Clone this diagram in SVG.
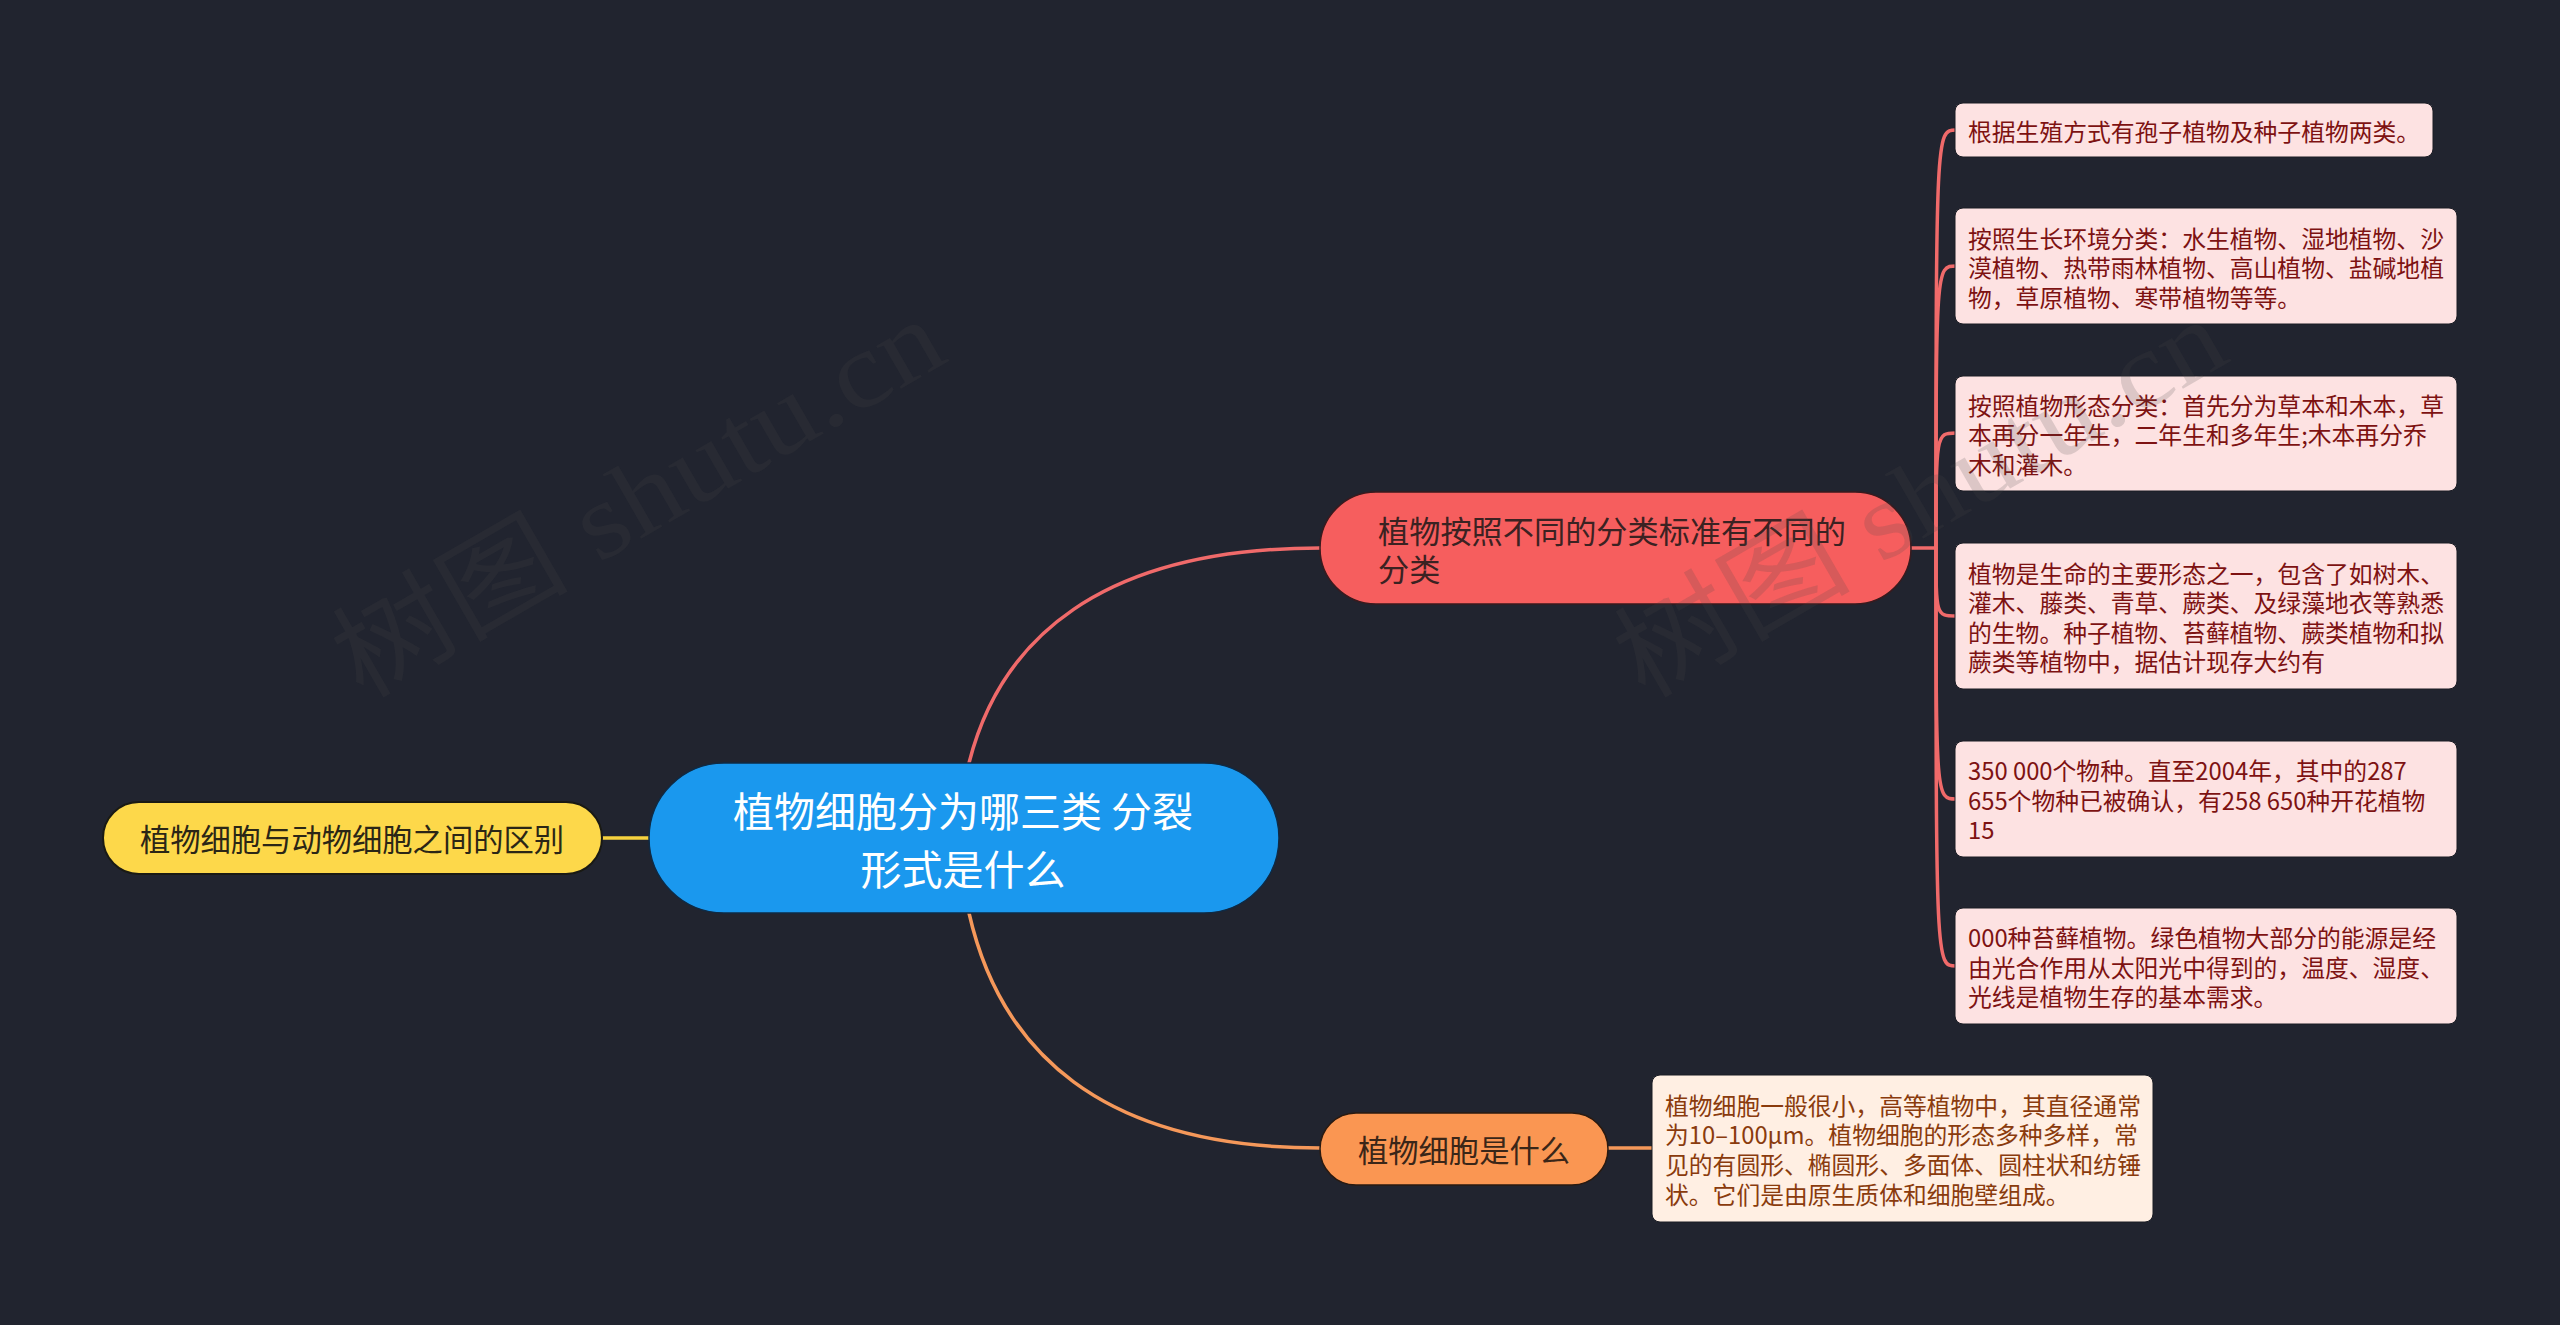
<svg xmlns="http://www.w3.org/2000/svg" width="2560" height="1325" viewBox="0 0 2560 1325">
<style>
text{font-family:"Noto Sans CJK SC","Noto Sans",sans-serif;}
.leaf{fill:#fde2e2;stroke:#1a1c24;stroke-width:1}
.leaft{font-size:23.8px;fill:#7d1212;dominant-baseline:central}
.oleaf{fill:#ffefe3;stroke:#1a1c24;stroke-width:1}
.oleaft{font-size:23.8px;fill:#8a3b0d;dominant-baseline:central}
.wm{font-family:"Liberation Serif","Noto Sans CJK SC",serif;font-size:108px;fill:rgb(72,72,72);fill-opacity:0.18}
.c{fill:none;stroke-width:3.5;stroke-linecap:round}
</style>
<rect width="2560" height="1325" fill="#21242f"/>
<g id="connectors">
<path class="c" stroke="#f06a6a" d="M969,763 C1000,640 1100,548 1320,548"/>
<path class="c" stroke="#f5985a" d="M969,913 C1000,1050 1100,1148 1320,1148"/>
<path class="c" stroke="#f6d23f" d="M602,838 H649"/>
<path class="c" stroke="#f5985a" d="M1608,1148 H1653"/>
<path class="c" stroke="#f06a6a" d="M1911,548 H1936"/>
<path class="c" stroke="#f06a6a" d="M1936,548 C1936,130 1936,130 1956,130"/>
<path class="c" stroke="#f06a6a" d="M1936,548 C1936,266 1936,266 1956,266"/>
<path class="c" stroke="#f06a6a" d="M1936,548 C1936,433 1936,433 1956,433"/>
<path class="c" stroke="#f06a6a" d="M1936,548 C1936,616 1936,616 1956,616"/>
<path class="c" stroke="#f06a6a" d="M1936,548 C1936,799 1936,799 1956,799"/>
<path class="c" stroke="#f06a6a" d="M1936,548 C1936,966 1936,966 1956,966"/>
</g>
<g id="root">
<rect x="649" y="763" width="630" height="150" rx="75" fill="#1a98ee" stroke="#0f2a44" stroke-width="1.5"/>
<text x="963" y="809" font-size="41" fill="#ffffff" text-anchor="middle" dominant-baseline="central">植物细胞分为哪三类 分裂</text>
<text x="963" y="867" font-size="41" fill="#ffffff" text-anchor="middle" dominant-baseline="central">形式是什么</text>
</g>
<g id="n-left">
<rect x="103" y="802" width="499" height="72" rx="36" fill="#fdd84a" stroke="#1a1a14" stroke-width="2"/>
<text x="352" y="838" font-size="30.3" fill="#2b2616" text-anchor="middle" dominant-baseline="central">植物细胞与动物细胞之间的区别</text>
</g>
<g id="n-red">
<rect x="1320" y="492" width="591" height="112" rx="56" fill="#f65e5e" stroke="#3a1a1e" stroke-width="1.5"/>
<text x="1378" y="529" font-size="31.2" fill="#3b2222" dominant-baseline="central">植物按照不同的分类标准有不同的</text>
<text x="1378" y="567" font-size="31.2" fill="#3b2222" dominant-baseline="central">分类</text>
</g>
<g id="n-orange">
<rect x="1320" y="1113" width="288" height="72" rx="36" fill="#fa9652" stroke="#2a1a10" stroke-width="1.5"/>
<text x="1464" y="1149" font-size="30.3" fill="#3a2618" text-anchor="middle" dominant-baseline="central">植物细胞是什么</text>
</g>
<g id="leaf1">
<rect class="leaf" x="1955" y="103" width="478" height="54" rx="8"/>
<text class="leaft" x="1968" y="130">根据生殖方式有孢子植物及种子植物两类。</text>
</g>
<g id="leaf2">
<rect class="leaf" x="1955" y="208" width="502" height="116" rx="8"/>
<text class="leaft" x="1968" y="237">按照生长环境分类：水生植物、湿地植物、沙</text>
<text class="leaft" x="1968" y="266.5">漠植物、热带雨林植物、高山植物、盐碱地植</text>
<text class="leaft" x="1968" y="296">物，草原植物、寒带植物等等。</text>
</g>
<g id="leaf3">
<rect class="leaf" x="1955" y="376" width="502" height="115" rx="8"/>
<text class="leaft" x="1968" y="404">按照植物形态分类：首先分为草本和木本，草</text>
<text class="leaft" x="1968" y="433.5">本再分一年生，二年生和多年生;木本再分乔</text>
<text class="leaft" x="1968" y="463">木和灌木。</text>
</g>
<g id="leaf4">
<rect class="leaf" x="1955" y="543" width="502" height="146" rx="8"/>
<text class="leaft" x="1968" y="572">植物是生命的主要形态之一，包含了如树木、</text>
<text class="leaft" x="1968" y="601.5">灌木、藤类、青草、蕨类、及绿藻地衣等熟悉</text>
<text class="leaft" x="1968" y="631">的生物。种子植物、苔藓植物、蕨类植物和拟</text>
<text class="leaft" x="1968" y="660.5">蕨类等植物中，据估计现存大约有</text>
</g>
<g id="leaf5">
<rect class="leaf" x="1955" y="741" width="502" height="116" rx="8"/>
<text class="leaft" x="1968" y="769.5">350 000个物种。直至2004年，其中的287</text>
<text class="leaft" x="1968" y="799">655个物种已被确认，有258 650种开花植物</text>
<text class="leaft" x="1968" y="828.5">15</text>
</g>
<g id="leaf6">
<rect class="leaf" x="1955" y="908" width="502" height="116" rx="8"/>
<text class="leaft" x="1968" y="936.5">000种苔藓植物。绿色植物大部分的能源是经</text>
<text class="leaft" x="1968" y="966">由光合作用从太阳光中得到的，温度、湿度、</text>
<text class="leaft" x="1968" y="995.5">光线是植物生存的基本需求。</text>
</g>
<g id="leaf-orange">
<rect class="oleaf" x="1652" y="1075" width="501" height="147" rx="8"/>
<text class="oleaft" x="1665" y="1104">植物细胞一般很小，高等植物中，其直径通常</text>
<text class="oleaft" x="1665" y="1133.7">为10–100μm。植物细胞的形态多种多样，常</text>
<text class="oleaft" x="1665" y="1163.4">见的有圆形、椭圆形、多面体、圆柱状和纺锤</text>
<text class="oleaft" x="1665" y="1193">状。它们是由原生质体和细胞壁组成。</text>
</g>
<g id="watermarks">
<text class="wm" x="362" y="700" transform="rotate(-30 362 700)" textLength="680" lengthAdjust="spacingAndGlyphs">树图 shutu.cn</text>
<text class="wm" x="1644" y="700" transform="rotate(-30 1644 700)" textLength="680" lengthAdjust="spacingAndGlyphs">树图 shutu.cn</text>
</g>
</svg>
